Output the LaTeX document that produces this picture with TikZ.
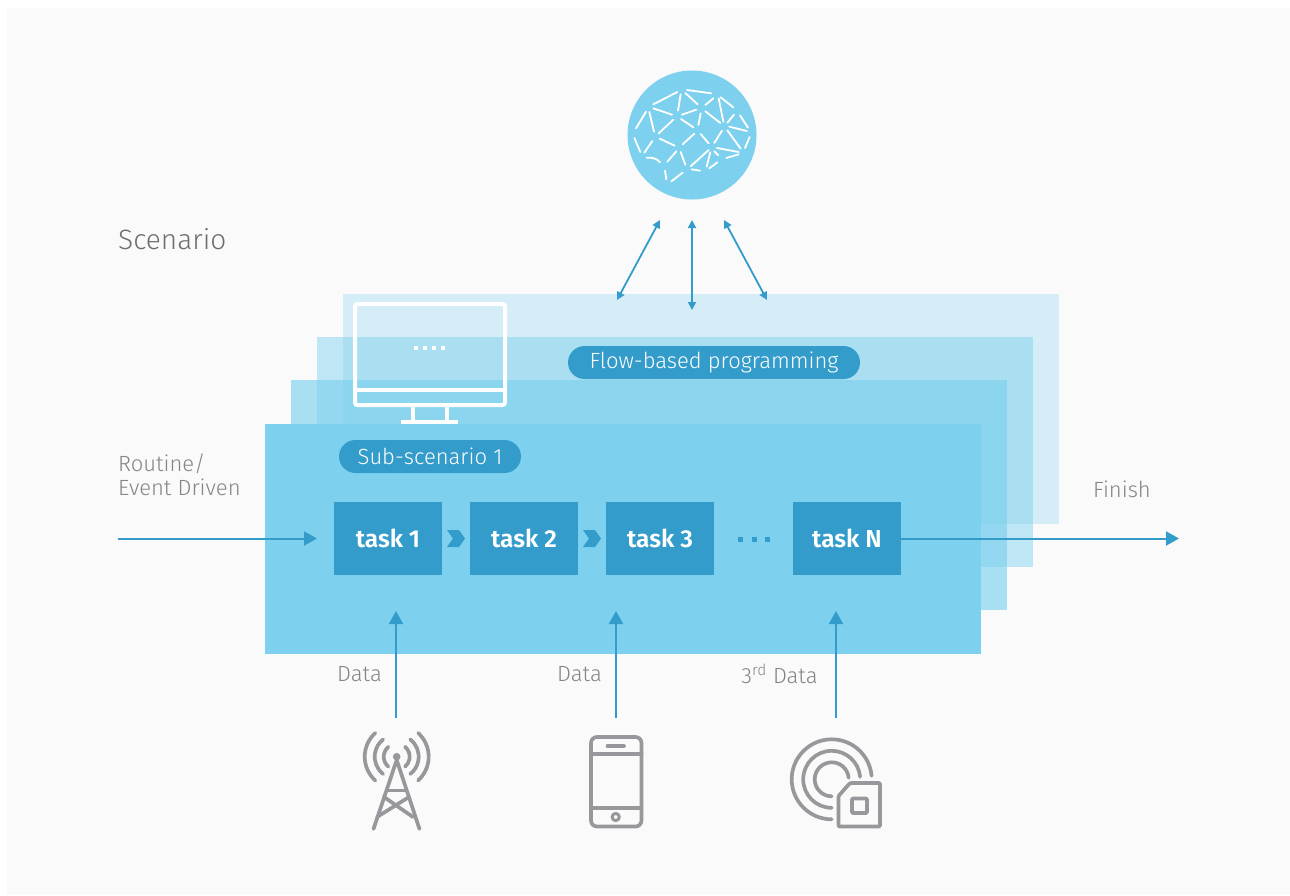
\documentclass[tikz,border=0pt]{standalone}
\usepackage{fontspec}
\setmainfont{Fira Sans}[UprightFont=* Light, BoldFont=* SemiBold]
\usetikzlibrary{arrows.meta}
\definecolor{bgc}{HTML}{FAFAFA}
\definecolor{lay4}{HTML}{7DD1EE}
\definecolor{blu}{HTML}{339CCB}
\definecolor{icon}{HTML}{97989B}
\definecolor{txt}{HTML}{858585}
\definecolor{txtd}{HTML}{6E6E6E}
\tikzset{
  x=1pt,y=-1pt,
  layerbox/.style={anchor=north west,inner sep=0,outer sep=0,minimum width=716pt,minimum height=230pt,fill=lay4,fill opacity=#1},
  taskbox/.style={anchor=north west,inner sep=0,outer sep=0,fill=blu,minimum width=108pt,minimum height=73pt,text=white,font=\bfseries\fontsize{24.5}{24.5}\selectfont},
  pill/.style={rounded corners=16.5pt,fill=blu,text=white,inner sep=0,minimum height=33pt,font=\fontsize{22}{22}\selectfont},
  lab/.style={text=txt,inner sep=0,font=\fontsize{22}{24}\selectfont},
  arr/.style={blu,line width=2pt,-{Triangle[length=13pt,width=14pt]}},
  darr/.style={blu,line width=1.8pt,{Triangle[length=8pt,width=8pt]}-{Triangle[length=8pt,width=8pt]}},
  ico/.style={icon,line width=3.7pt,line cap=round,line join=round},
  mon/.style={white,line width=4pt},
  neuron/.style={white,line width=1.8pt,line cap=round},
  chev/.style={fill=blu},
  sq/.style={fill=blu}
}
\begin{document}
\begin{tikzpicture}
\useasboundingbox (0,0) rectangle (1290,895);
\fill[white] (0,0) rectangle (1290,895);
\fill[bgc] (7,8) rectangle (1290,895);
% layers
\node[layerbox=.30] (l1) at (343,294) {};
\node[layerbox=.48] (l2) at (317,337) {};
\node[layerbox=.65] (l3) at (291,380) {};
% monitor
\draw[mon,rounded corners=2.5pt] (355,304) rectangle (505,405);
\draw[mon] (355,390) -- (505,390);
\draw[mon] (412.5,405) -- (412.5,422);
\draw[mon] (446.5,405) -- (446.5,422);
\draw[mon] (401,422) -- (458,422);
\foreach \x in {416,425,434,443} \fill[white] (\x-2,346) rectangle (\x+2,350);
\node[layerbox=1] (l4) at (265,423.5) {};
% brain
\fill[lay4] (692,135) circle[radius=64.5];
\begin{scope}[shift={(610,70)},x=0.3333pt,y=-0.3333pt]
\foreach \a/\b/\c/\d in {130/103/202/66,204/122/212/73,226/69/263/103,231/60/304/70,286/105/310/85,326/85/340/155,332/82/370/112,352/158/372/134,390/136/414/173,358/170/411/183,352/181/392/236,405/234/419/201,130/115/186/134,216/134/259/119,286/124/331/159,265/165/272/130,78/175/108/125,118/126/132/185,146/190/190/149,213/147/250/172,218/223/253/191,272/192/296/220,313/219/336/182,73/204/91/246,103/248/127/213,149/206/194/227,172/275/199/244,212/246/226/284,242/289/296/240,290/290/301/247,313/244/325/256,321/234/386/246,349/264/386/253,298/295/322/277,245/298/270/302,165/302/169/328,184/334/218/308}
  \draw[neuron] (\a,\b) -- (\c,\d);
\draw[neuron] (110,263) .. controls (130,263) and (140,265) .. (150,277);
\end{scope}
% labels
\node[pill,minimum width=292pt] (flow) at (714,362.5) {Flow-based programming};
\node[pill,minimum width=182pt] (sub) at (430,456.5) {Sub-scenario 1};
\node[anchor=west,text=txtd,inner sep=0,font=\fontsize{28}{28}\selectfont] (scen) at (118,239) {Scenario};
\node[lab,anchor=north west,align=left] (routine) at (118,454) {Routine/\\Event Driven};
\node[lab,anchor=west] (finish) at (1093,489) {Finish};
\node[lab] (d1) at (359.5,674) {Data};
\node[lab] (d2) at (579.5,674) {Data};
\node[lab] (d3) at (779.5,674) {3\textsuperscript{rd} Data};
% tasks
\node[taskbox] (t1) at (334,502) {\raisebox{1.5pt}{task 1}};
\node[taskbox] (t2) at (470,502) {\raisebox{1.5pt}{task 2}};
\node[taskbox] (t3) at (606,502) {\raisebox{1.5pt}{task 3}};
\node[taskbox] (tn) at (793,502) {\raisebox{1.5pt}{task N}};
\foreach \x in {447,583}
  \fill[chev] (\x,530) -- ++(12,0) -- ++(6,8.5) -- ++(-6,8.5) -- ++(-12,0) -- ++(6,-8.5) -- cycle;
\foreach \x in {740,754,767} \fill[sq] (\x-2.5,536.5) rectangle (\x+2.5,541.5);
% connectors
\coordinate (cin) at (118,538.5);
\coordinate (cint) at (317,538.5);
\coordinate (cout) at (1179,538.5);
\coordinate (tnr) at (901,538.5);
\draw[arr] (cin) -- (cint);
\draw[arr] (tnr) -- (cout);
\foreach \n/\x in {a/396,b/616,c/836}{
  \coordinate (\n0) at (\x,718);
  \coordinate (\n1) at (\x,611);
  \draw[arr] (\n0) -- (\n1);
}
\coordinate (u1) at (660,220); \coordinate (v1) at (617,300);
\coordinate (u2) at (692,220); \coordinate (v2) at (692,310);
\coordinate (u3) at (724,220); \coordinate (v3) at (767,300);
\draw[darr] (u1) -- (v1);
\draw[darr] (u2) -- (v2);
\draw[darr] (u3) -- (v3);
% tower
\fill[icon] (396.7,756.7) circle[radius=3.8];
\draw[ico] (373.5,829) -- (396.7,760) -- (419.5,829);
\draw[ico] (388,790.5) -- (405.5,790.5);
\draw[ico] (384,797) -- (413,817);
\draw[ico] (409,797) -- (377,817);
\foreach \r/\t in {13/50,22/52,32/48}{
  \draw[ico] (396.7,756.7) ++({180-\t}:\r) arc[start angle=180-\t,end angle=180+\t,radius=\r];
  \draw[ico] (396.7,756.7) ++({-\t}:\r) arc[start angle=-\t,end angle=\t,radius=\r];
}
% phone
\draw[ico,rounded corners=6pt] (591,737) rectangle (641.5,826.5);
\draw[ico] (591,754) -- (641.5,754);
\draw[ico] (591,808) -- (641.5,808);
\draw[ico] (607.5,746) -- (624,746);
\draw[ico,line width=3pt] (615.7,817) circle[radius=3.6];
% sensor
\foreach \r/\e in {40/355,28.5/355,17/355}
  \draw[ico] (831.7,779.3) ++(90:\r) arc[start angle=90,end angle=\e,radius=\r];
\draw[ico,rounded corners=1pt] (850,783) -- (880,783) -- (880,826.5) -- (838.5,826.5) -- (838.5,796) -- cycle;
\draw[ico,rounded corners=1pt] (852,798.5) rectangle (867,813);
\end{tikzpicture}
\end{document}
